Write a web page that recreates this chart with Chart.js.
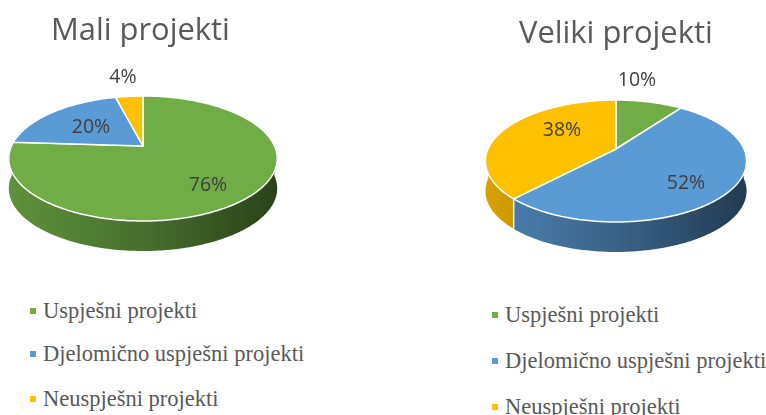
<!DOCTYPE html>
<html>
<head>
<meta charset="utf-8">
<script src="https://cdn.jsdelivr.net/npm/chart.js@4"></script>
<style>
    html, body { margin: 0; padding: 0; background: #fff; }
    #page { position: relative; width: 766px; height: 415px; overflow: hidden; }
    canvas { position: absolute; top: 0; }
    .title { position: absolute; font-family: "Open Sans", sans-serif; font-size: 30.9px; color: #595959; white-space: nowrap; line-height: 40px; }
    .legendText { position: absolute; font-family: "Liberation Serif", serif; font-size: 22.5px; color: #595959; white-space: nowrap; line-height: 24px; }
    .legendMark { position: absolute; width: 6px; height: 6px; }
</style>
</head>
<body>
<div id="page">
    <canvas id="smallChart" width="383" height="270" style="left:0;width:383px;height:270px"></canvas>
    <canvas id="largeChart" width="383" height="270" style="left:383px;width:383px;height:270px"></canvas>
</div>
<script>
const categories = ['Uspješni projekti', 'Djelomično uspješni projekti', 'Neuspješni projekti'];
const smallProjects = [76, 20, 4];
const largeProjects = [10, 52, 38];
const sliceColors = [[112, 173, 71], [91, 155, 213], [255, 192, 0]];

// Where each pie sits. The tilt is a real perspective, the apex is not the ellipse centre.
const smallView = {
    title: 'Mali projekti', titleX: 51, titleY: 8,
    cx: 143, cy: 146, a: 131.5, b: 60, p: 0.2, depth: 30,
    labels: [[65, 39], [-52, -19], [-20, -69]],
    legendX: 30, legendY: [311, 354, 399]
};
const largeView = {
    title: 'Veliki projekti', titleX: 519, titleY: 11,
    cx: 233, cy: 149, a: 128, b: 58.6, p: 0.197, depth: 30,
    labels: [[21, -69], [70, 34], [-54, -19]],
    legendX: 492, legendY: [315, 361, 407]
};

function shade(rgb, k) {
    return 'rgb(' + rgb.map(c => Math.round(c * k)).join(',') + ')';
}

// Maps a point of the flat pie onto the tilted one
function project(view, angle) {
    const u = Math.cos(angle);
    const v = -Math.sin(angle);
    const w = 1 + view.p * v;
    return { x: view.cx + view.a * u / w, y: view.cy - view.b * v / w, v: v };
}

function rimPoints(view, arc) {
    const steps = Math.max(4, Math.ceil((arc.endAngle - arc.startAngle) * 60));
    const pts = [];
    for (let i = 0; i <= steps; i++) {
        pts.push(project(view, arc.startAngle + (arc.endAngle - arc.startAngle) * i / steps));
    }
    return pts;
}

const tiltedPie = {
    id: 'tiltedPie',
    beforeDatasetsDraw(chart, args, opts) {
        const view = opts.view;
        const ctx = chart.ctx;
        const arcs = chart.getDatasetMeta(0).data;
        ctx.save();

        // side wall, front part only
        arcs.forEach((arc, i) => {
            const front = rimPoints(view, arc).filter(pt => pt.v <= 0.02);
            if (front.length < 2) return;
            const grad = ctx.createLinearGradient(view.cx - view.a, 0, view.cx + view.a, 0);
            grad.addColorStop(0, shade(sliceColors[i], 0.84));
            grad.addColorStop(0.5, shade(sliceColors[i], 0.64));
            grad.addColorStop(1, shade(sliceColors[i], 0.38));
            ctx.fillStyle = grad;
            ctx.beginPath();
            front.forEach((pt, n) => n ? ctx.lineTo(pt.x, pt.y) : ctx.moveTo(pt.x, pt.y));
            front.slice().reverse().forEach(pt => ctx.lineTo(pt.x, pt.y + view.depth));
            ctx.closePath();
            ctx.fill();
        });

        // white seams on the wall
        ctx.strokeStyle = '#fff';
        ctx.lineWidth = 1.5;
        arcs.forEach(arc => {
            const edge = project(view, arc.endAngle);
            if (edge.v < 0) {
                ctx.beginPath();
                ctx.moveTo(edge.x, edge.y);
                ctx.lineTo(edge.x, edge.y + view.depth);
                ctx.stroke();
            }
        });

        // top surface
        ctx.lineJoin = 'round';
        arcs.forEach((arc, i) => {
            ctx.fillStyle = shade(sliceColors[i], 1);
            ctx.beginPath();
            ctx.moveTo(view.cx, view.cy);
            rimPoints(view, arc).forEach(pt => ctx.lineTo(pt.x, pt.y));
            ctx.closePath();
            ctx.fill();
            ctx.stroke();
        });

        // percent labels
        ctx.fillStyle = '#404040';
        ctx.font = '19.5px "Open Sans", sans-serif';
        ctx.textAlign = 'center';
        ctx.textBaseline = 'middle';
        chart.data.datasets[0].data.forEach((value, i) => {
            ctx.fillText(value + '%', view.cx + view.labels[i][0], view.cy + view.labels[i][1]);
        });

        ctx.restore();
        return false;
    }
};

function makePie(canvasId, values, view) {
    return new Chart(document.getElementById(canvasId), {
        type: 'pie',
        data: {
            labels: categories,
            datasets: [{ data: values, backgroundColor: sliceColors.map(c => shade(c, 1)) }]
        },
        options: {
            responsive: false,
            animation: false,
            events: [],
            plugins: {
                legend: { display: false },
                tooltip: { enabled: false },
                tiltedPie: { view: view }
            }
        },
        plugins: [tiltedPie]
    });
}

function addText(view) {
    const page = document.getElementById('page');
    const title = document.createElement('div');
    title.className = 'title';
    title.textContent = view.title;
    title.style.left = view.titleX + 'px';
    title.style.top = view.titleY + 'px';
    page.appendChild(title);

    categories.forEach((name, i) => {
        const mark = document.createElement('div');
        mark.className = 'legendMark';
        mark.style.left = view.legendX + 'px';
        mark.style.top = (view.legendY[i] - 3) + 'px';
        mark.style.background = shade(sliceColors[i], 1);
        page.appendChild(mark);

        const text = document.createElement('div');
        text.className = 'legendText';
        text.textContent = name;
        text.style.left = (view.legendX + 13) + 'px';
        text.style.top = (view.legendY[i] - 12) + 'px';
        page.appendChild(text);
    });
}

makePie('smallChart', smallProjects, smallView);
makePie('largeChart', largeProjects, largeView);
addText(smallView);
addText(largeView);
</script>
</body>
</html>
